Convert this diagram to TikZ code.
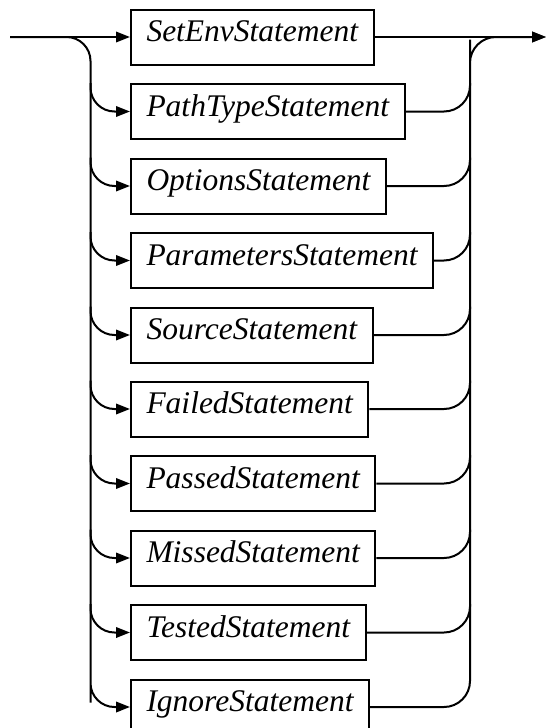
\documentclass[tikz,border=0pt]{standalone}
\usepackage{fontspec}
\setmainfont{Liberation Serif}
\usepackage{tikz}
\usetikzlibrary{positioning,arrows.meta}
\tikzstyle{stmt} = [draw, line width=2pt, anchor=west, minimum height=55pt, inner xsep=15.5pt,
  font=\itshape\fontsize{31.5}{36}\selectfont, text height=21pt, text depth=12pt]
\tikzstyle{rail} = [line width=2pt]
\tikzstyle{into} = [rail, -{Triangle[length=14pt,width=10.5pt]}]

\begin{document}
\begin{tikzpicture}[x=1pt, y=-1pt]
			\useasboundingbox (0,0) rectangle (547,728);
			\coordinate (start) at (10,37);
			\coordinate (end) at (546,37);
			\coordinate (lrail) at (90.5,0);
			\coordinate (rrail) at (470,0);
			\node[stmt] (s1) at (130,37) {SetEnvStatement};
			\node[stmt] (s2) at (130,111.5) {PathTypeStatement};
			\node[stmt] (s3) at (130,186) {OptionsStatement};
			\node[stmt] (s4) at (130,260.5) {ParametersStatement};
			\node[stmt] (s5) at (130,335) {SourceStatement};
			\node[stmt] (s6) at (130,409) {FailedStatement};
			\node[stmt] (s7) at (130,483.5) {PassedStatement};
			\node[stmt] (s8) at (130,558) {MissedStatement};
			\node[stmt] (s9) at (130,632.5) {TestedStatement};
			\node[stmt] (s10) at (130,707) {IgnoreStatement};
			% main line
			\draw[into] (start) -- (s1);
			\draw[into] (s1) -- (end);
			% left rail
			\draw[into, rounded corners=24pt] (start) -| (lrail |- s10.north) |- (s10);
			\foreach \k in {2,...,9}
				\draw[into, rounded corners=24pt] (lrail |- s\k.north) |- (s\k);
			% right rail
			\draw[into, rounded corners=26pt] (s10) -| (rrail |- s1.south) |- (end);
			\foreach \k in {2,...,9}
				\draw[rail, rounded corners=26pt] (s\k) -| (rrail |- s\k.north);
		\end{tikzpicture}
\end{document}
